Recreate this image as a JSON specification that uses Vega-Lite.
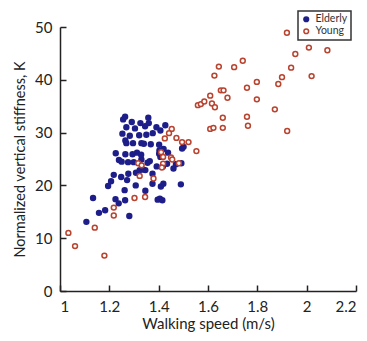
{
  "$schema": "https://vega.github.io/schema/vega-lite/v6.json",
  "width": 296,
  "height": 264,
  "autosize": {"type": "none"},
  "padding": {"left": 60, "top": 27, "right": 11, "bottom": 50},
  "background": "white",
  "config": {
    "view": {"stroke": null},
    "font": "Lato",
    "axis": {"grid": false, "domainColor": "#222", "domainWidth": 1.5, "tickColor": "#222", "tickWidth": 1.5, "labelColor": "#222", "titleColor": "#222", "labelFont": "Lato", "titleFont": "Lato", "titleFontWeight": "normal"},
    "legend": {"strokeColor": "#333", "strokeWidth": 1.5, "fillColor": "white", "padding": 3, "labelFontSize": 10.5, "labelColor": "#333", "rowPadding": 0, "symbolSize": 22, "symbolStrokeWidth": 1.5, "labelFont": "Lato", "orient": "none", "legendX": 238, "legendY": -16}
  },
  "data": {"values": [
    {"g":"Elderly","x":1.264,"y":33.0},{"g":"Elderly","x":1.256,"y":32.5},{"g":"Elderly","x":1.291,"y":32.0},{"g":"Elderly","x":1.326,"y":31.8},{"g":"Elderly","x":1.358,"y":32.8},{"g":"Elderly","x":1.360,"y":31.8},{"g":"Elderly","x":1.269,"y":31.0},{"g":"Elderly","x":1.304,"y":30.8},{"g":"Elderly","x":1.345,"y":31.2},{"g":"Elderly","x":1.391,"y":31.0},{"g":"Elderly","x":1.427,"y":31.4},{"g":"Elderly","x":1.253,"y":29.8},{"g":"Elderly","x":1.283,"y":29.4},{"g":"Elderly","x":1.321,"y":29.5},{"g":"Elderly","x":1.350,"y":29.6},{"g":"Elderly","x":1.376,"y":29.9},{"g":"Elderly","x":1.407,"y":30.4},{"g":"Elderly","x":1.265,"y":28.5},{"g":"Elderly","x":1.296,"y":28.0},{"g":"Elderly","x":1.330,"y":28.0},{"g":"Elderly","x":1.368,"y":27.8},{"g":"Elderly","x":1.402,"y":27.7},{"g":"Elderly","x":1.269,"y":28.0},{"g":"Elderly","x":1.403,"y":26.6},{"g":"Elderly","x":1.226,"y":26.1},{"g":"Elderly","x":1.265,"y":25.9},{"g":"Elderly","x":1.294,"y":25.9},{"g":"Elderly","x":1.329,"y":25.8},{"g":"Elderly","x":1.402,"y":26.0},{"g":"Elderly","x":1.239,"y":24.8},{"g":"Elderly","x":1.276,"y":24.4},{"g":"Elderly","x":1.299,"y":24.4},{"g":"Elderly","x":1.330,"y":24.9},{"g":"Elderly","x":1.364,"y":24.6},{"g":"Elderly","x":1.407,"y":25.4},{"g":"Elderly","x":1.438,"y":26.2},{"g":"Elderly","x":1.501,"y":27.3},{"g":"Elderly","x":1.495,"y":27.0},{"g":"Elderly","x":1.492,"y":24.2},{"g":"Elderly","x":1.277,"y":22.2},{"g":"Elderly","x":1.308,"y":22.4},{"g":"Elderly","x":1.323,"y":22.9},{"g":"Elderly","x":1.346,"y":22.9},{"g":"Elderly","x":1.392,"y":23.6},{"g":"Elderly","x":1.417,"y":23.6},{"g":"Elderly","x":1.434,"y":24.1},{"g":"Elderly","x":1.460,"y":23.2},{"g":"Elderly","x":1.218,"y":22.0},{"g":"Elderly","x":1.248,"y":21.6},{"g":"Elderly","x":1.375,"y":22.2},{"g":"Elderly","x":1.195,"y":19.9},{"g":"Elderly","x":1.207,"y":20.8},{"g":"Elderly","x":1.272,"y":21.0},{"g":"Elderly","x":1.307,"y":20.0},{"g":"Elderly","x":1.375,"y":20.3},{"g":"Elderly","x":1.409,"y":19.8},{"g":"Elderly","x":1.419,"y":20.3},{"g":"Elderly","x":1.490,"y":20.2},{"g":"Elderly","x":1.262,"y":19.1},{"g":"Elderly","x":1.346,"y":19.0},{"g":"Elderly","x":1.134,"y":17.6},{"g":"Elderly","x":1.225,"y":17.4},{"g":"Elderly","x":1.264,"y":17.2},{"g":"Elderly","x":1.396,"y":17.3},{"g":"Elderly","x":1.405,"y":17.5},{"g":"Elderly","x":1.415,"y":17.2},{"g":"Elderly","x":1.238,"y":16.6},{"g":"Elderly","x":1.158,"y":14.8},{"g":"Elderly","x":1.183,"y":15.3},{"g":"Elderly","x":1.107,"y":13.1},{"g":"Elderly","x":1.281,"y":14.2},{"g":"Elderly","x":1.340,"y":27.9},{"g":"Elderly","x":1.312,"y":26.2},{"g":"Elderly","x":1.355,"y":24.3},{"g":"Elderly","x":1.250,"y":24.5},{"g":"Elderly","x":1.335,"y":23.0},{"g":"Elderly","x":1.420,"y":26.9},{"g":"Elderly","x":1.470,"y":24.0},
    {"g":"Young","x":1.453,"y":30.7},{"g":"Young","x":1.425,"y":28.9},{"g":"Young","x":1.442,"y":29.9},{"g":"Young","x":1.472,"y":29.0},{"g":"Young","x":1.495,"y":28.2},{"g":"Young","x":1.521,"y":28.2},{"g":"Young","x":1.410,"y":26.3},{"g":"Young","x":1.418,"y":25.4},{"g":"Young","x":1.450,"y":25.3},{"g":"Young","x":1.455,"y":24.9},{"g":"Young","x":1.418,"y":24.1},{"g":"Young","x":1.413,"y":23.4},{"g":"Young","x":1.482,"y":24.2},{"g":"Young","x":1.553,"y":26.5},{"g":"Young","x":1.379,"y":21.3},{"g":"Young","x":1.323,"y":21.8},{"g":"Young","x":1.317,"y":24.2},{"g":"Young","x":1.331,"y":23.8},{"g":"Young","x":1.302,"y":17.6},{"g":"Young","x":1.345,"y":17.8},{"g":"Young","x":1.218,"y":15.8},{"g":"Young","x":1.218,"y":14.3},{"g":"Young","x":1.141,"y":12.0},{"g":"Young","x":1.034,"y":11.0},{"g":"Young","x":1.061,"y":8.5},{"g":"Young","x":1.180,"y":6.7},
    {"g":"Young","x":1.559,"y":35.2},{"g":"Young","x":1.571,"y":35.4},{"g":"Young","x":1.585,"y":35.9},{"g":"Young","x":1.609,"y":37.0},{"g":"Young","x":1.616,"y":35.5},{"g":"Young","x":1.628,"y":34.8},{"g":"Young","x":1.626,"y":40.8},{"g":"Young","x":1.644,"y":42.5},{"g":"Young","x":1.609,"y":30.7},{"g":"Young","x":1.622,"y":30.9},{"g":"Young","x":1.652,"y":38.0},{"g":"Young","x":1.663,"y":38.0},{"g":"Young","x":1.679,"y":36.6},{"g":"Young","x":1.660,"y":32.8},{"g":"Young","x":1.660,"y":30.9},{"g":"Young","x":1.706,"y":42.4},{"g":"Young","x":1.741,"y":43.6},{"g":"Young","x":1.758,"y":38.5},{"g":"Young","x":1.758,"y":33.0},{"g":"Young","x":1.762,"y":31.3},{"g":"Young","x":1.798,"y":39.6},{"g":"Young","x":1.798,"y":36.3},{"g":"Young","x":1.871,"y":34.4},{"g":"Young","x":1.885,"y":39.2},{"g":"Young","x":1.900,"y":40.5},{"g":"Young","x":1.920,"y":48.9},{"g":"Young","x":1.921,"y":30.3},{"g":"Young","x":1.937,"y":42.3},{"g":"Young","x":1.954,"y":44.9},{"g":"Young","x":2.009,"y":46.1},{"g":"Young","x":2.020,"y":40.7},{"g":"Young","x":2.084,"y":45.6}
  ]},
  "mark": {"type": "point", "size": 24, "strokeWidth": 1.5, "opacity": 1},
  "encoding": {
    "x": {"field": "x", "type": "quantitative", "scale": {"domain": [1, 2.2], "nice": false, "zero": false},
      "axis": {"values": [1, 1.2, 1.4, 1.6, 1.8, 2, 2.2], "format": "~g", "tickSize": -6, "labelPadding": 14, "labelFontSize": 15, "title": "Walking speed (m/s)", "titleFontSize": 15, "titlePadding": 2}},
    "y": {"field": "y", "type": "quantitative", "scale": {"domain": [0, 50], "nice": false},
      "axis": {"values": [0, 10, 20, 30, 40, 50], "tickSize": -6, "labelPadding": 14, "labelFontSize": 15, "title": "Normalized vertical stiffness, K", "titleFontSize": 14.5, "titlePadding": 7}},
    "stroke": {"field": "g", "type": "nominal", "scale": {"domain": ["Elderly", "Young"], "range": ["#1e1e8a", "#b8432f"]}, "legend": {"title": null}},
    "fill": {"field": "g", "type": "nominal", "scale": {"domain": ["Elderly", "Young"], "range": ["#1e1e8a", "white"]}, "legend": {"title": null}}
  }
}
